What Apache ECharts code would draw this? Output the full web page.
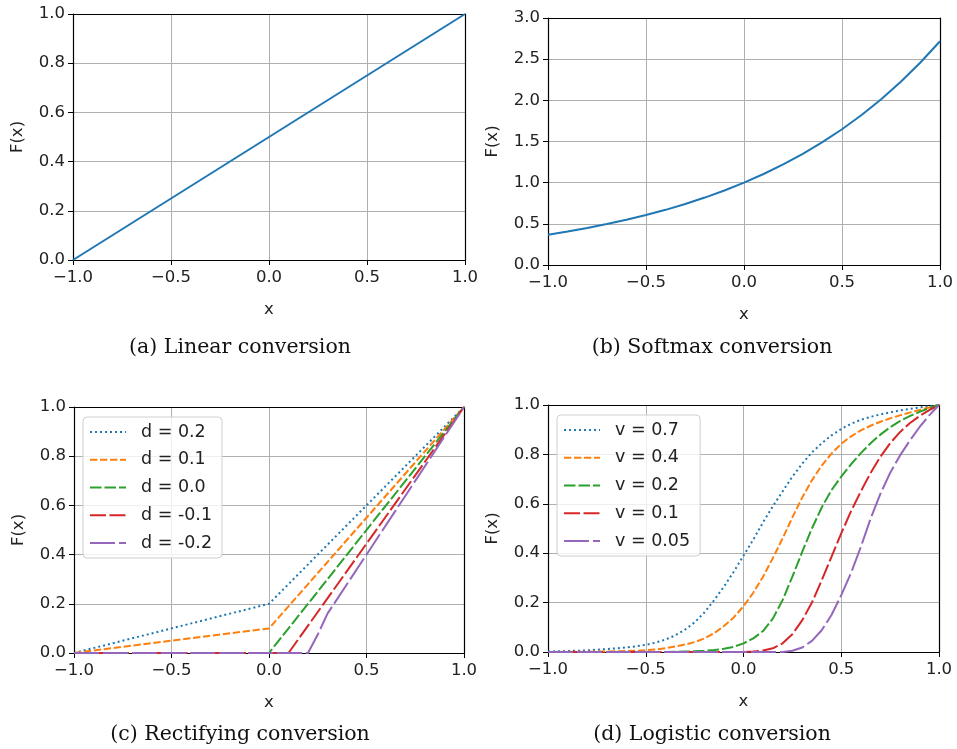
<!DOCTYPE html>
<html>
<head>
<meta charset="utf-8">
<script src="https://cdn.jsdelivr.net/npm/echarts@6/dist/echarts.min.js"></script>
<style>html,body{margin:0;padding:0;background:#fff}#c{width:957px;height:749px}</style>
</head>
<body>
<div id="c"></div>
<script>
// ---------- data ----------
// (a) Linear conversion
const linX = [-1.0, 1.0];
const linY = [0.0, 1.0];

// (b) Softmax conversion
const softX = [-1.0,-0.9,-0.8,-0.7,-0.6,-0.5,-0.4,-0.3,-0.2,-0.1,0.0,0.1,0.2,0.3,0.4,0.5,0.6,0.7,0.8,0.9,1.0];
const softY = [0.368,0.407,0.449,0.497,0.549,0.607,0.670,0.741,0.819,0.905,1.000,1.105,1.221,1.350,1.492,1.649,1.822,2.014,2.226,2.460,2.718];

// (c) Rectifying conversion
const rectNames = ['d = 0.2','d = 0.1','d = 0.0','d = -0.1','d = -0.2'];
const rectX_d02 = [-1.0, 0.0, 1.0];
const rectY_d02 = [0.0, 0.2, 1.0];
const rectX_d01 = [-1.0, 0.0, 1.0];
const rectY_d01 = [0.0, 0.1, 1.0];
const rectX_d00 = [-1.0, 0.0, 1.0];
const rectY_d00 = [0.0, 0.0, 1.0];
const rectX_dm01 = [-1.0, 0.1, 1.0];
const rectY_dm01 = [0.0, 0.0, 1.0];
const rectX_dm02 = [-1.0, 0.2, 0.25, 0.3, 1.0];
const rectY_dm02 = [0.0, 0.0, 0.075, 0.16, 1.0];

// (d) Logistic conversion
const logNames = ['v = 0.7','v = 0.4','v = 0.2','v = 0.1','v = 0.05'];
const logX = [-1.00,-0.95,-0.90,-0.85,-0.80,-0.75,-0.70,-0.65,-0.60,-0.55,-0.50,-0.45,-0.40,-0.35,-0.30,-0.25,-0.20,-0.15,-0.10,-0.05,0.00,
              0.05,0.10,0.15,0.20,0.25,0.30,0.35,0.40,0.45,0.50,0.55,0.60,0.65,0.70,0.75,0.80,0.85,0.90,0.95,1.00];
const logY_v07 = [0.002,0.003,0.004,0.005,0.007,0.009,0.012,0.015,0.019,0.023,0.029,0.038,0.050,0.067,0.090,0.120,0.160,0.210,0.265,0.325,0.390,
                  0.455,0.525,0.590,0.650,0.710,0.762,0.808,0.845,0.877,0.903,0.924,0.940,0.952,0.962,0.970,0.978,0.984,0.990,0.995,1.000];
const logY_v04 = [0.000,0.000,0.001,0.001,0.001,0.002,0.002,0.003,0.004,0.005,0.007,0.010,0.015,0.022,0.030,0.040,0.055,0.076,0.105,0.140,0.185,
                  0.240,0.305,0.380,0.460,0.545,0.625,0.695,0.755,0.803,0.843,0.873,0.897,0.916,0.932,0.946,0.958,0.969,0.980,0.990,1.000];
const logY_v02 = [0.000,0.000,0.000,0.000,0.000,0.000,0.000,0.000,0.000,0.000,0.000,0.000,0.000,0.001,0.002,0.003,0.005,0.008,0.013,0.021,0.035,
                  0.055,0.085,0.135,0.210,0.305,0.405,0.500,0.585,0.655,0.710,0.760,0.805,0.845,0.880,0.910,0.935,0.955,0.972,0.987,1.000];
const logY_v01 = [0.000,0.000,0.000,0.000,0.000,0.000,0.000,0.000,0.000,0.000,0.000,0.000,0.000,0.000,0.000,0.000,0.000,0.000,0.000,0.000,0.000,
                  0.002,0.006,0.015,0.035,0.072,0.128,0.200,0.290,0.385,0.480,0.570,0.650,0.725,0.790,0.845,0.890,0.926,0.955,0.979,1.000];
const logY_v005 = [0.000,0.000,0.000,0.000,0.000,0.000,0.000,0.000,0.000,0.000,0.000,0.000,0.000,0.000,0.000,0.000,0.000,0.000,0.000,0.000,0.000,
                   0.000,0.000,0.000,0.000,0.005,0.018,0.045,0.088,0.150,0.230,0.320,0.425,0.540,0.640,0.725,0.795,0.855,0.910,0.958,1.000];

// axes
const xTickMin = -1.0, xTickMax = 1.0, xTickStep = 0.5;
const yUnitMax = 1.0, yUnitStep = 0.2;
const ySoftMax = 3.0, ySoftStep = 0.5;

const captions = ['(a) Linear conversion','(b) Softmax conversion','(c) Rectifying conversion','(d) Logistic conversion'];

// ---------- styles ----------
const colors = ['#1f77b4','#ff7f0e','#2ca02c','#d62728','#9467bd'];
const dashes = [[2,3],[7.3,2.7],[11.5,3],[16,3.5],[25,4]];
const TICK_FONT = 16.5;
const grids = [
  {left:73, top:14, width:392, height:246},
  {left:548, top:18, width:392, height:247},
  {left:74, top:407, width:390, height:246},
  {left:548, top:405, width:391, height:247}
];
const yMaxes = [yUnitMax, ySoftMax, yUnitMax, yUnitMax];
const ySteps = [yUnitStep, ySoftStep, yUnitStep, yUnitStep];
const captionPos = [[240,348],[712,348],[240,735],[712,735]];

const fmt = v => v.toFixed(1).replace('-', '\u2212');
const textCol = '#222';

const xAxes = [], yAxes = [];
grids.forEach((g, i) => {
  xAxes.push({
    type:'value', gridIndex:i, position:'bottom', min:xTickMin, max:xTickMax, interval:xTickStep,
    name:'x', nameLocation:'middle', nameGap:41,
    nameTextStyle:{fontFamily:'DejaVu Sans', fontSize:TICK_FONT, color:textCol},
    axisLine:{show:true, onZero:false, lineStyle:{color:'#000', width:1.2}},
    axisTick:{show:true, length:5, lineStyle:{color:'#000', width:1}},
    axisLabel:{formatter:fmt, margin:9, fontFamily:'DejaVu Sans', fontSize:TICK_FONT, color:textCol},
    splitLine:{show:true, lineStyle:{color:'#b0b0b0', width:1}}
  });
  xAxes.push({
    type:'value', gridIndex:i, position:'top', min:xTickMin, max:xTickMax,
    axisLine:{show:true, onZero:false, lineStyle:{color:'#000', width:1.2}},
    axisTick:{show:false}, axisLabel:{show:false}, splitLine:{show:false}
  });
  yAxes.push({
    type:'value', gridIndex:i, position:'left', min:0, max:yMaxes[i], interval:ySteps[i],
    name:'F(x)', nameLocation:'middle', nameGap:47, nameRotate:90,
    nameTextStyle:{fontFamily:'DejaVu Sans', fontSize:TICK_FONT, color:textCol},
    axisLine:{show:true, onZero:false, lineStyle:{color:'#000', width:1.2}},
    axisTick:{show:true, length:5, lineStyle:{color:'#000', width:1}},
    axisLabel:{formatter:fmt, margin:8, fontFamily:'DejaVu Sans', fontSize:TICK_FONT, color:textCol},
    splitLine:{show:true, lineStyle:{color:'#b0b0b0', width:1}}
  });
  yAxes.push({
    type:'value', gridIndex:i, position:'right', min:0, max:yMaxes[i],
    axisLine:{show:true, onZero:false, lineStyle:{color:'#000', width:1.2}},
    axisTick:{show:false}, axisLabel:{show:false}, splitLine:{show:false}
  });
});

const pairs = (xs, ys) => xs.map((x, k) => [x, ys[k]]);

function lineSeries(name, gi, data, ci, dashed) {
  return {
    type:'line', name:name, xAxisIndex:2*gi, yAxisIndex:2*gi, data:data,
    symbol:'none', showSymbol:false, smooth:false, silent:true,
    lineStyle:{color:colors[ci], width:2, type: dashed ? dashes[ci] : 'solid'},
    itemStyle:{color:colors[ci]}
  };
}

const series = [
  lineSeries('linear', 0, pairs(linX, linY), 0, false),
  lineSeries('softmax', 1, pairs(softX, softY), 0, false),
  lineSeries(rectNames[0], 2, pairs(rectX_d02, rectY_d02), 0, true),
  lineSeries(rectNames[1], 2, pairs(rectX_d01, rectY_d01), 1, true),
  lineSeries(rectNames[2], 2, pairs(rectX_d00, rectY_d00), 2, true),
  lineSeries(rectNames[3], 2, pairs(rectX_dm01, rectY_dm01), 3, true),
  lineSeries(rectNames[4], 2, pairs(rectX_dm02, rectY_dm02), 4, true),
  lineSeries(logNames[0], 3, pairs(logX, logY_v07), 0, true),
  lineSeries(logNames[1], 3, pairs(logX, logY_v04), 1, true),
  lineSeries(logNames[2], 3, pairs(logX, logY_v02), 2, true),
  lineSeries(logNames[3], 3, pairs(logX, logY_v01), 3, true),
  lineSeries(logNames[4], 3, pairs(logX, logY_v005), 4, true)
];

function legendAt(names, left, top) {
  return {
    data:names, orient:'vertical', left:left, top:top,
    itemWidth:36, itemHeight:18, itemGap:9.75, selectedMode:false,
    padding:[6,10,6,6],
    itemStyle:{opacity:0, color:'rgba(0,0,0,0)', borderWidth:0},
    backgroundColor:'rgba(255,255,255,0.8)', borderColor:'#cfcfcf', borderWidth:1, borderRadius:4,
    textStyle:{fontFamily:'DejaVu Sans', fontSize:17.5, color:textCol, lineHeight:18, padding:[0,0,0,10]}
  };
}

const graphic = captions.map((t, i) => ({
  type:'text', x:captionPos[i][0], y:captionPos[i][1], silent:true,
  style:{text:t, fontFamily:'DejaVu Serif', fontSize:20.5, fill:'#111', textAlign:'center', textVerticalAlign:'middle'}
}));

const chart = echarts.init(document.getElementById('c'), null, {renderer:'canvas'});
chart.setOption({
  backgroundColor:'#fff',
  animation:false,
  grid: grids.map(g => Object.assign({containLabel:false}, g)),
  xAxis: xAxes,
  yAxis: yAxes,
  legend: [legendAt(rectNames, 83, 417), legendAt(logNames, 557, 415)],
  series: series,
  graphic: graphic
});
</script>
</body>
</html>
